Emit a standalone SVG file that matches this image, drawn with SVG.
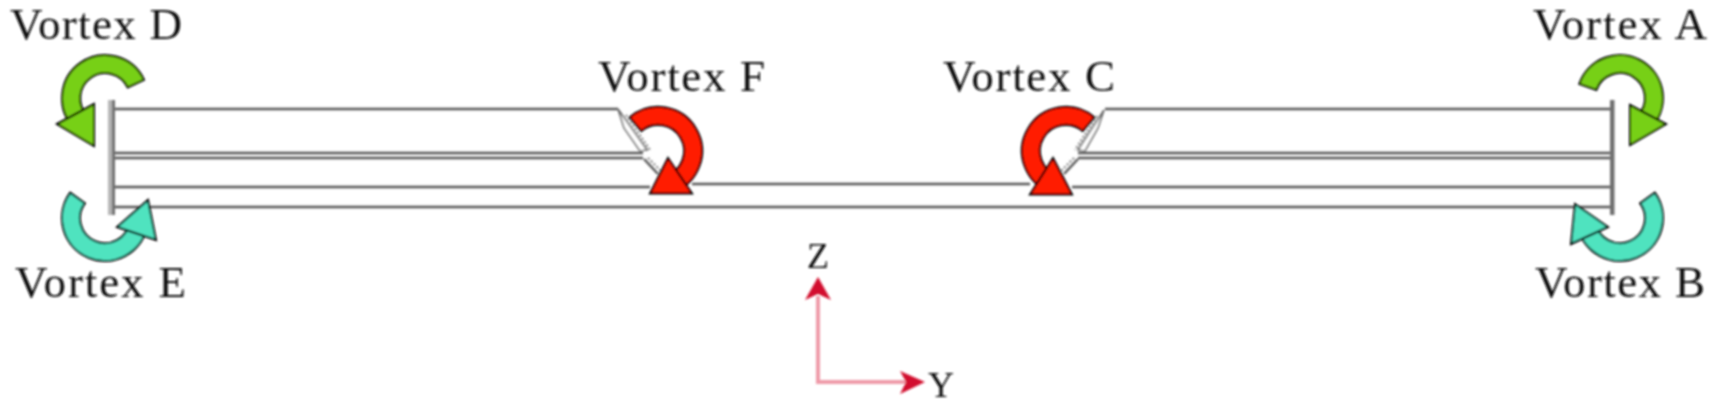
<svg xmlns="http://www.w3.org/2000/svg" width="1717" height="408" viewBox="0 0 1717 408">
<style>
text{font-family:"Liberation Serif","Times New Roman",serif;fill:#111}
.l{font-size:45px}
.a{font-size:36px}
.s{fill:none;stroke:#555;stroke-width:2.4}
.h{fill:#fff;stroke:#666;stroke-width:1.6}
.d{fill:none;stroke:#777;stroke-width:2;stroke-dasharray:2 2}
.bar{fill:#b5b5b5}
.bd{fill:#707070}
.v{stroke:#000;stroke-width:2;stroke-linejoin:miter}
.g{fill:#77d015}
.t{fill:#4fe3bf}
.r{fill:#ff1a00}
.ax{fill:none;stroke:#ef9aa8;stroke-width:4}
.ah{fill:#d2102e}
</style>
<defs><filter id="b" x="-2%" y="-2%" width="104%" height="104%"><feGaussianBlur stdDeviation="0.8"/></filter></defs>
<rect width="1717" height="408" fill="#fff"/>
<g filter="url(#b)">
<g id="connectors">
<path class="s" d="M114 109H618M114 153H643M114 158H643M114 187H650M114 207H1610M692 184H1030M1105 109H1610M1078 153H1610M1078 158H1610M1072 187H1610"/>
<path class="h" d="M618 109L647 150L640 151L624 128Z"/>
<path class="d" d="M626 115L650 150"/>
<path class="s" d="M644 159L658 174"/>
<path class="d" d="M648 158L662 172"/>
<path class="h" d="M1104 110L1078 150L1085 151L1098 128Z"/>
<path class="d" d="M1097 116L1075 150"/>
<path class="s" d="M1078 159L1064 174"/>
<path class="d" d="M1074 158L1060 172"/>
<path class="ax" d="M818 296V382H906"/>
<path class="ah" d="M818 277L831 300L818 294L805 300Z"/>
<path class="ah" d="M925 382L900 371L906 382L900 394Z"/>
</g>
<g id="frame-left"><rect class="bar" x="108" y="100" width="4" height="115"/><rect class="bd" x="112" y="100" width="3" height="115"/></g>
<g id="frame-right"><rect class="bd" x="1610" y="100" width="4.500" height="115"/></g>
<g id="vortex-d">
<path class="v g" d="M144 79.800A43 43 0 1 0 74.600 128.400L87.300 115.700A25 25 0 1 1 127.700 87.400Z"/>
<path class="v g" d="M57 124L94 104V146Z"/>
<text class="l" x="10" y="39" textLength="172">Vortex D</text>
</g>
<g id="vortex-e">
<path class="v t" d="M70.200 192.700A43 43 0 1 0 147.300 225.500L129.600 222.300A25 25 0 1 1 84.800 203.300Z"/>
<path class="v t" d="M148 200L156 240L117 227Z"/>
<text class="l" x="15" y="297" textLength="171">Vortex E</text>
</g>
<g id="vortex-f">
<path class="v r" d="M629.700 117.300A44 44 0 1 1 673 192.300L666.900 175.400A26 26 0 1 0 641.300 131.100Z"/>
<path class="v r" d="M668 158L692 193.500H650Z"/>
<text class="l" x="598" y="91" textLength="167">Vortex F</text>
</g>
<g id="vortex-c">
<path class="v r" d="M1094.300 117.300A44 44 0 1 0 1051 192.300L1057.100 175.400A26 26 0 1 1 1082.700 131.100Z"/>
<path class="v r" d="M1053 158L1072 194.500H1030Z"/>
<text class="l" x="943" y="91" textLength="172">Vortex C</text>
</g>
<g id="vortex-a">
<path class="v g" d="M1579.300 84A43 43 0 1 1 1650.400 128.400L1637.700 115.700A25 25 0 1 0 1596.400 89.900Z"/>
<path class="v g" d="M1630 105L1666 124L1630 145Z"/>
<text class="l" x="1533" y="39" textLength="174">Vortex A</text>
</g>
<g id="vortex-b">
<path class="v t" d="M1654.800 192.700A43 43 0 1 1 1577.700 225.500L1595.400 222.300A25 25 0 1 0 1640.200 203.300Z"/>
<path class="v t" d="M1575 204L1608 227L1571 244Z"/>
<text class="l" x="1535" y="297" textLength="170">Vortex B</text>
</g>
<g id="axis-z"><text class="a" x="818" y="268" text-anchor="middle">Z</text></g>
<g id="axis-y"><text class="a" x="928" y="397">Y</text></g>
</g>
</svg>
